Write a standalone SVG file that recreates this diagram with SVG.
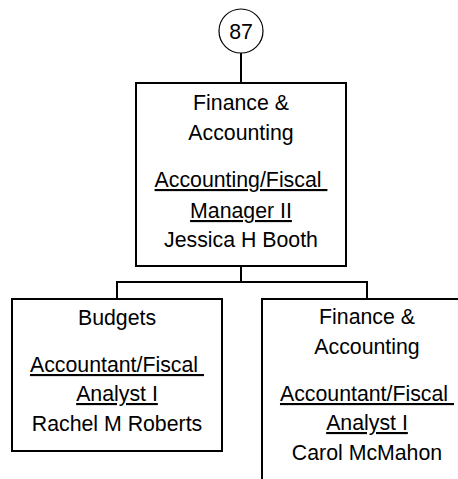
<svg xmlns="http://www.w3.org/2000/svg" width="458" height="479" viewBox="0 0 458 479">
<style>
.box{fill:#fff;stroke:#000;stroke-width:2}
.conn{fill:none;stroke:#000;stroke-width:2}
text{font-family:"Liberation Sans",Arial,sans-serif;font-size:21.3px;fill:#000;text-anchor:middle}
.u{text-decoration:underline}
</style>
<rect width="458" height="479" fill="#fff"/>
<g id="connectors">
<line class="conn" x1="241" y1="53" x2="241" y2="83"/>
<polyline class="conn" points="241,266 241,282"/>
<polyline class="conn" points="117,299 117,282 367,282 367,299"/>
</g>
<g id="n87">
<circle cx="241" cy="31" r="22" fill="#fff" stroke="#000" stroke-width="1.2"/>
<text x="241" y="38.5">87</text>
</g>
<g id="finance-top">
<rect class="box" x="136" y="83" width="210" height="183"/>
<text x="241" y="110">Finance &amp;</text>
<text x="241" y="140">Accounting</text>
<text class="u" x="241" y="187">Accounting/Fiscal&#160;</text>
<text class="u" x="241" y="218">Manager II</text>
<text x="241" y="247">Jessica H Booth</text>
</g>
<g id="budgets">
<rect class="box" x="12" y="299" width="210" height="152"/>
<text x="117" y="325">Budgets</text>
<text class="u" x="117" y="372">Accountant/Fiscal&#160;</text>
<text class="u" x="117" y="401">Analyst I</text>
<text x="117" y="431">Rachel M Roberts</text>
</g>
<g id="finance-right">
<rect class="box" x="262" y="299" width="210" height="190"/>
<text x="367" y="324">Finance &amp;</text>
<text x="367" y="354">Accounting</text>
<text class="u" x="367" y="401">Accountant/Fiscal&#160;</text>
<text class="u" x="367" y="430">Analyst I</text>
<text x="367" y="460">Carol McMahon</text>
</g>
</svg>
